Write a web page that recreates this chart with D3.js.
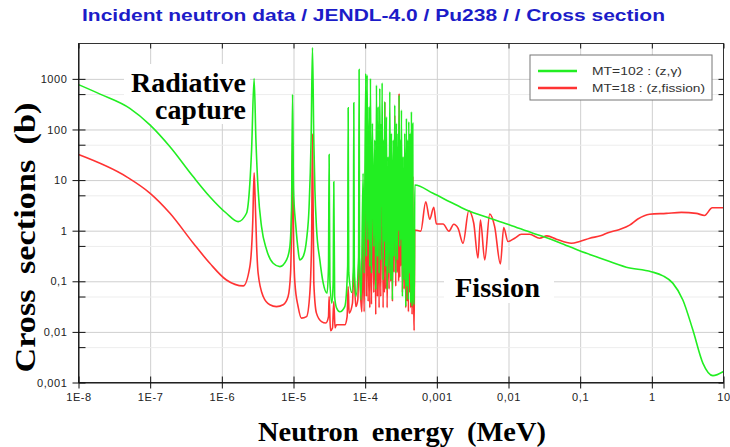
<!DOCTYPE html>
<html>
<head>
<meta charset="utf-8">
<script src="https://cdn.jsdelivr.net/npm/d3@7"></script>
<style>
    body { margin: 0; background: #fff; }
    svg { display: block; }
</style>
</head>
<body>
<svg id="mainsvg" width="730" height="447"></svg>
<script>
let titleText = "Incident neutron data / JENDL-4.0 / Pu238 / / Cross section";
let xTicks = [1e-8, 1e-7, 1e-6, 1e-5, 1e-4, 1e-3, 1e-2, 1e-1, 1, 10];
let xTickLabels = ["1E-8", "1E-7", "1E-6", "1E-5", "1E-4", "0,001", "0,01", "0,1", "1", "10"];
let yTicks = [0.001, 0.01, 0.1, 1, 10, 100, 1000];
let yTickLabels = ["0,001", "0,01", "0,1", "1", "10", "100", "1000"];
let yMinorTicks = [0.005, 0.05, 0.5, 5, 50, 500];
let seriesNames = ["MT=102 : (z,\u03b3)", "MT=18 : (z,fission)"];

// MT=102 radiative capture, [energy MeV, cross section b]
let captureData = [
    [1e-8, 770], [2e-8, 500], [5.2e-8, 261], [1e-7, 122], [1.89e-7, 45.6], [4e-7, 11.6],
    [6.8e-7, 4.7], [1.16e-6, 2.21], [1.69e-6, 1.51], [2.21e-6, 2.21], [2.46e-6, 8.6], [2.6e-6, 39],
    [2.82e-6, 1020], [2.99e-6, 62], [3.21e-6, 6.4], [3.58e-6, 1.2], [4.21e-6, 0.42], [5.2e-6, 0.227],
    [6.46e-6, 0.195], [8.0e-6, 0.264], [8.89e-6, 0.48], [9.4e-6, 3.0], [9.7e-6, 493], [1.0e-5, 6.4],
    [1.08e-5, 1.2], [1.16e-5, 0.416], [1.22e-5, 0.264], [1.36e-5, 0.307], [1.52e-5, 0.656], [1.65e-5, 2.98],
    [1.76e-5, 62], [1.84e-5, 4170], [1.92e-5, 62], [1.99e-5, 6.4], [2.09e-5, 1.2], [2.33e-5, 0.264],
    [2.59e-5, 0.094], [2.94e-5, 0.058], [3.08e-5, 0.2], [3.14e-5, 32], [3.22e-5, 0.1], [3.43e-5, 0.037],
    [3.58e-5, 0.1], [3.65e-5, 9.3], [3.75e-5, 0.05], [3.98e-5, 0.03], [4.43e-5, 0.025], [5.2e-5, 0.0317],
    [5.7e-5, 0.2], [5.79e-5, 268], [5.9e-5, 0.15], [6.5e-5, 0.06], [6.85e-5, 0.2], [6.94e-5, 336],
    [7.05e-5, 0.2], [7.4e-5, 0.05], [8.1e-5, 0.3], [8.23e-5, 1535], [8.36e-5, 0.3], [8.78e-5, 0.043],
    [9.36e-5, 13.6], [9.67e-5, 0.144], [1.02e-4, 1279], [1.042e-4, 0.307], [1.065e-4, 1186], [1.10e-4, 0.656],
    [1.136e-4, 281], [1.16e-4, 0.195], [1.185e-4, 1019], [1.224e-4, 0.144], [1.263e-4, 132], [1.319e-4, 0.484],
    [1.361e-4, 62], [1.406e-4, 0.068], [1.437e-4, 752], [1.484e-4, 0.307], [1.516e-4, 281], [1.565e-4, 0.144],
    [1.599e-4, 647], [1.651e-4, 0.264], [1.687e-4, 132], [1.705e-4, 3.0], [1.724e-4, 836], [1.78e-4, 0.106],
    [1.818e-4, 62], [1.85e-4, 0.6], [1.878e-4, 353], [1.939e-4, 0.195], [1.981e-4, 178], [2.024e-4, 0.068],
    [2.089e-4, 29], [2.158e-4, 0.144], [2.204e-4, 556], [2.276e-4, 0.106], [2.325e-4, 84], [2.401e-4, 0.043],
    [2.453e-4, 62], [2.533e-4, 0.307], [2.588e-4, 303], [2.672e-4, 0.144], [2.73e-4, 132], [2.819e-4, 0.264],
    [2.88e-4, 84], [2.93e-4, 1.0], [2.974e-4, 478], [3.039e-4, 0.484], [3.105e-4, 62], [3.155e-4, 0.656],
    [3.206e-4, 242], [3.31e-4, 0.05], [3.382e-4, 29], [3.491e-4, 0.106], [3.567e-4, 84], [3.684e-4, 0.0317],
    [3.764e-4, 165], [3.846e-4, 0.079], [3.929e-4, 62], [4.015e-4, 0.043], [4.058e-4, 142], [4.19e-4, 0.144],
    [4.235e-4, 84], [4.327e-4, 0.037], [4.419e-4, 224], [4.515e-4, 0.032], [4.613e-4, 132], [4.663e-4, 0.058],
    [4.85e-4, 0.035], [4.92e-4, 8.0], [8.85e-4, 5.48], [1.51e-3, 3.74], [2.59e-3, 2.56], [5.47e-3, 1.76],
    [1.04e-2, 1.30], [2.19e-2, 0.89], [3.26e-2, 0.74], [5.18e-2, 0.58], [9.82e-2, 0.40], [0.187, 0.29],
    [0.44, 0.19], [0.98, 0.155], [1.43, 0.128], [1.96, 0.092], [2.71, 0.0428], [3.73, 0.011],
    [5.15, 0.00242], [7.1, 0.00137], [10, 0.00165]
];

// MT=18 fission
let fissionData = [
    [1e-8, 32], [4.7e-8, 11.6], [1e-7, 5.48], [1.89e-7, 2.21], [4e-7, 0.565], [6.8e-7, 0.227],
    [1.16e-6, 0.106], [1.99e-6, 0.081], [2.46e-6, 0.195], [2.7e-6, 1.5], [2.82e-6, 14], [2.89e-6, 6.4],
    [3.06e-6, 0.48], [3.21e-6, 0.144], [3.78e-6, 0.05], [4.68e-6, 0.0343], [5.79e-6, 0.0316], [7.18e-6, 0.0343],
    [8.41e-6, 0.05], [9.1e-6, 0.144], [9.48e-6, 2.98], [9.7e-6, 54.6], [1.0e-5, 0.656], [1.045e-5, 0.094],
    [1.16e-5, 0.0316], [1.29e-5, 0.0187], [1.52e-5, 0.02], [1.69e-5, 0.058], [1.79e-5, 0.656], [1.84e-5, 80],
    [1.92e-5, 0.094], [2.09e-5, 0.0235], [2.46e-5, 0.016], [2.83e-5, 0.015], [3.08e-5, 0.02], [3.14e-5, 0.05],
    [3.28e-5, 0.0106], [3.5e-5, 0.012], [3.65e-5, 0.04], [3.8e-5, 0.012], [3.98e-5, 0.0138], [5.2e-5, 0.0138],
    [5.6e-5, 0.0201], [5.79e-5, 0.079], [5.97e-5, 0.0234], [6.65e-5, 0.037], [6.94e-5, 0.168], [7.4e-5, 0.0317],
    [7.89e-5, 0.043], [8.23e-5, 0.358], [8.69e-5, 0.043], [9.0e-5, 0.025], [9.36e-5, 1.0], [9.67e-5, 0.025],
    [1.02e-4, 40], [1.042e-4, 0.05], [1.065e-4, 60], [1.10e-4, 0.04], [1.136e-4, 10], [1.16e-4, 0.03],
    [1.185e-4, 50], [1.224e-4, 0.035], [1.263e-4, 8], [1.319e-4, 0.06], [1.361e-4, 4], [1.406e-4, 0.022],
    [1.437e-4, 40], [1.484e-4, 0.05], [1.516e-4, 15], [1.565e-4, 0.03], [1.599e-4, 30], [1.651e-4, 0.05],
    [1.724e-4, 60], [1.78e-4, 0.03], [1.818e-4, 5], [1.85e-4, 0.06], [1.878e-4, 352], [1.939e-4, 0.07],
    [1.981e-4, 12], [2.024e-4, 0.03], [2.089e-4, 3], [2.158e-4, 0.07], [2.204e-4, 40], [2.276e-4, 0.1],
    [2.325e-4, 8], [2.401e-4, 0.04], [2.453e-4, 6], [2.533e-4, 0.15], [2.588e-4, 192], [2.672e-4, 0.08],
    [2.73e-4, 15], [2.819e-4, 0.15], [2.88e-4, 8], [2.93e-4, 0.1], [2.974e-4, 515], [3.039e-4, 0.12],
    [3.105e-4, 6], [3.155e-4, 0.2], [3.206e-4, 30], [3.31e-4, 0.06], [3.382e-4, 3], [3.491e-4, 0.07],
    [3.567e-4, 10], [3.684e-4, 0.03], [3.764e-4, 20], [3.846e-4, 0.04], [3.929e-4, 6], [4.015e-4, 0.025],
    [4.058e-4, 15], [4.19e-4, 0.06], [4.235e-4, 8], [4.327e-4, 0.03], [4.419e-4, 25], [4.515e-4, 0.022],
    [4.613e-4, 12], [4.663e-4, 0.03], [4.75e-4, 0.04], [4.82e-4, 0.0106], [4.92e-4, 1.03], [5.97e-4, 0.98],
    [7.0e-4, 3.74], [7.96e-4, 1.68], [9.06e-4, 2.9], [9.86e-4, 1.36], [1.22e-3, 1.36], [1.48e-3, 0.98],
    [1.72e-3, 1.34], [1.98e-3, 1.11], [2.32e-3, 0.565], [2.79e-3, 2.48], [3.27e-3, 1.42], [3.75e-3, 0.288],
    [4.06e-3, 1.63], [4.66e-3, 0.264], [5.47e-3, 2.14], [6.41e-3, 1.2], [7.71e-3, 0.22], [8.57e-3, 1.15],
    [9.84e-3, 0.61], [1.22e-2, 0.71], [1.51e-2, 0.85], [1.97e-2, 0.85], [2.72e-2, 0.71], [3.44e-2, 0.79],
    [4.66e-2, 0.68], [7.54e-2, 0.565], [9.82e-2, 0.61], [0.136, 0.71], [0.197, 0.8], [0.244, 0.91],
    [0.355, 1.06], [0.49, 1.29], [0.638, 1.7], [0.93, 2.11], [1.59, 2.2], [2.58, 2.3],
    [4.17, 2.2], [5.43, 2.0], [6.97, 2.84], [10, 2.84]
];

let svg = d3.select("#mainsvg");
let plotLeft = 78.5, plotRight = 723.5, plotTop = 43.5, plotBottom = 382.5;
let green = "#22ee22", red = "#ff3333";

let x = d3.scaleLog().domain([1e-8, 10]).range([plotLeft, plotRight]);
let y = d3.scaleLog().domain([0.001, 5000]).range([plotBottom, plotTop]);

// title
svg.append("text")
    .attr("x", 82).attr("y", 21)
    .attr("textLength", 583).attr("lengthAdjust", "spacingAndGlyphs")
    .style("font-family", "Liberation Sans, Arial, sans-serif")
    .style("font-size", "17px")
    .style("font-weight", "bold")
    .style("fill", "#1c1cc8")
    .text(titleText);

// grid
svg.append("g")
    .attr("transform", "translate(0," + plotBottom + ")")
    .call(d3.axisBottom(x).tickValues(xTicks.slice(1, -1)).tickSize(-(plotBottom - plotTop)).tickFormat(""))
    .call(g => g.select(".domain").remove())
    .call(g => g.selectAll("line").attr("stroke", "#cfcfcf"));
svg.append("g")
    .attr("transform", "translate(" + plotLeft + ",0)")
    .call(d3.axisLeft(y).tickValues(yMinorTicks).tickSize(-(plotRight - plotLeft)).tickFormat(""))
    .call(g => g.select(".domain").remove())
    .call(g => g.selectAll("line").attr("stroke", "#ededed"));
svg.append("g")
    .attr("transform", "translate(" + plotLeft + ",0)")
    .call(d3.axisLeft(y).tickValues(yTicks.slice(1)).tickSize(-(plotRight - plotLeft)).tickFormat(""))
    .call(g => g.select(".domain").remove())
    .call(g => g.selectAll("line").attr("stroke", "#cfcfcf"));

// annotation backgrounds
svg.append("rect").attr("x", 124).attr("y", 64).attr("width", 126).attr("height", 60).attr("fill", "#fff");
svg.append("rect").attr("x", 444).attr("y", 270).attr("width", 110).attr("height", 33).attr("fill", "#fff");

// curves
svg.append("clipPath").attr("id", "plotclip")
    .append("rect").attr("x", plotLeft).attr("y", plotTop)
    .attr("width", plotRight - plotLeft).attr("height", plotBottom - plotTop);

let line = d3.line()
    .x(d => x(d[0]))
    .y(d => y(d[1]))
    .curve(d3.curveMonotoneX);

let curves = svg.append("g").attr("clip-path", "url(#plotclip)");
curves.append("path").datum(fissionData)
    .attr("d", line).attr("fill", "none").attr("stroke", red).attr("stroke-width", 1.6);
curves.append("path").datum(captureData)
    .attr("d", line).attr("fill", "none").attr("stroke", green).attr("stroke-width", 1.6);

// frame
svg.append("rect")
    .attr("x", plotLeft).attr("y", plotTop)
    .attr("width", plotRight - plotLeft).attr("height", plotBottom - plotTop)
    .attr("fill", "none").attr("stroke", "#333");

// axes
let tickFont = g => g.selectAll("text")
    .style("font-family", "Liberation Sans, Arial, sans-serif")
    .style("font-size", "11px")
    .style("letter-spacing", "0.6px")
    .style("fill", "#222");

svg.append("g")
    .attr("transform", "translate(0," + plotBottom + ")")
    .call(d3.axisBottom(x).tickValues(xTicks).tickFormat((d, i) => xTickLabels[i]).tickSizeInner(6).tickSizeOuter(0).tickPadding(5))
    .call(g => g.selectAll(".tick line").attr("y1", -6).attr("stroke", "#111"))
    .call(g => g.select(".domain").attr("stroke", "#111"))
    .call(tickFont);

svg.append("g")
    .attr("transform", "translate(" + plotLeft + ",0)")
    .call(d3.axisLeft(y).tickValues(yTicks).tickFormat((d, i) => yTickLabels[i]).tickSizeInner(6).tickSizeOuter(0).tickPadding(5))
    .call(g => g.selectAll(".tick line").attr("x1", 7).attr("stroke", "#111"))
    .call(g => g.select(".domain").attr("stroke", "#111"))
    .call(tickFont);

svg.append("g")
    .attr("transform", "translate(" + plotLeft + ",0)")
    .call(d3.axisLeft(y).tickValues(yMinorTicks).tickSizeInner(-7).tickFormat(""))
    .call(g => g.select(".domain").remove())
    .call(g => g.selectAll("line").attr("stroke", "#111"));

svg.append("g")
    .attr("transform", "translate(" + plotRight + ",0)")
    .call(d3.axisRight(y).tickValues(yTicks.concat(yMinorTicks)).tickSizeInner(-5).tickFormat(""))
    .call(g => g.select(".domain").remove())
    .call(g => g.selectAll("line").attr("stroke", "#111"));

svg.append("g")
    .attr("transform", "translate(0," + plotTop + ")")
    .call(d3.axisTop(x).tickValues(xTicks).tickSizeInner(-5).tickFormat(""))
    .call(g => g.select(".domain").remove())
    .call(g => g.selectAll("line").attr("stroke", "#111"));

// axis titles
let serif = "Liberation Serif, Times New Roman, serif";
svg.append("text")
    .attr("transform", "translate(35,237.5) rotate(-90)")
    .attr("text-anchor", "middle")
    .attr("textLength", 270).attr("lengthAdjust", "spacingAndGlyphs")
    .style("font-family", serif).style("font-weight", "bold").style("font-size", "30px")
    .style("word-spacing", "6px")
    .text("Cross sections (b)");
svg.append("text")
    .attr("x", 402).attr("y", 441)
    .attr("text-anchor", "middle")
    .attr("textLength", 288).attr("lengthAdjust", "spacingAndGlyphs")
    .style("font-family", serif).style("font-weight", "bold").style("font-size", "28px")
    .style("word-spacing", "6px")
    .text("Neutron energy (MeV)");

// annotations
svg.append("text")
    .attr("x", 246).attr("y", 92)
    .attr("text-anchor", "end")
    .attr("textLength", 115).attr("lengthAdjust", "spacingAndGlyphs")
    .style("font-family", serif).style("font-weight", "bold").style("font-size", "27px")
    .text("Radiative");
svg.append("text")
    .attr("x", 246).attr("y", 119)
    .attr("text-anchor", "end")
    .attr("textLength", 91).attr("lengthAdjust", "spacingAndGlyphs")
    .style("font-family", serif).style("font-weight", "bold").style("font-size", "27px")
    .text("capture");
svg.append("text")
    .attr("x", 455).attr("y", 297)
    .attr("textLength", 85).attr("lengthAdjust", "spacingAndGlyphs")
    .style("font-family", serif).style("font-weight", "bold").style("font-size", "27px")
    .text("Fission");

// legend
let legend = svg.append("g").attr("transform", "translate(530,55)");
legend.append("rect")
    .attr("width", 182).attr("height", 45)
    .attr("fill", "#fff").attr("stroke", "#777");
let legendColors = [green, red];
let legendLengths = [90, 113];
legend.selectAll(".legline").data(seriesNames).enter()
    .append("line")
    .attr("x1", 8).attr("x2", 47)
    .attr("y1", (d, i) => 16 + i * 17).attr("y2", (d, i) => 16 + i * 17)
    .attr("stroke", (d, i) => legendColors[i]).attr("stroke-width", 2.5);
legend.selectAll(".legtext").data(seriesNames).enter()
    .append("text")
    .attr("x", 62).attr("y", (d, i) => 20 + i * 17)
    .attr("textLength", (d, i) => legendLengths[i]).attr("lengthAdjust", "spacingAndGlyphs")
    .style("font-family", "Liberation Sans, Arial, sans-serif")
    .style("font-size", "11px")
    .style("fill", "#333")
    .text(d => d);
</script>
</body>
</html>
